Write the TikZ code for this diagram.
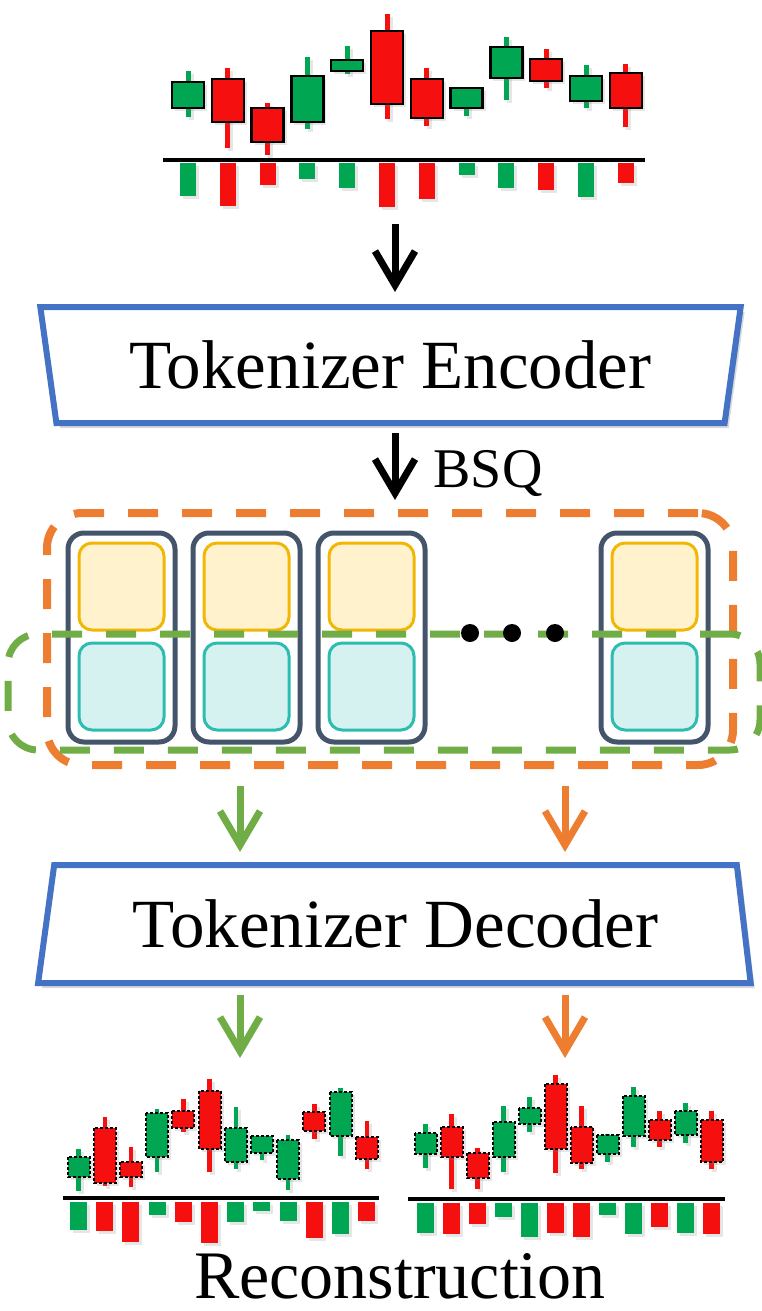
\documentclass[tikz,border=0pt]{standalone}
\usepackage{fontspec}
\setmainfont{Liberation Serif}
\usetikzlibrary{shapes.geometric,arrows.meta,shadows}

\definecolor{blockblue}{HTML}{4472C4}
\definecolor{tokgray}{HTML}{44546A}
\definecolor{hifill}{HTML}{FFF2CC}
\definecolor{hiline}{HTML}{F2B705}
\definecolor{lofill}{HTML}{D5F2F0}
\definecolor{loline}{HTML}{2CBCB0}
\definecolor{dashorange}{HTML}{ED7D31}
\definecolor{dashgreen}{HTML}{70AD47}
\definecolor{cg}{HTML}{00A651}
\definecolor{cr}{HTML}{F50F0F}

\begin{document}
\begin{tikzpicture}[x=1pt,y=-1pt]
    \tikzstyle{block} = [trapezium, trapezium stretches=true, draw=blockblue, line width=6pt, fill=white, inner sep=0pt, font=\fontsize{69}{80}\selectfont, drop shadow={opacity=0.3, shadow xshift=4pt, shadow yshift=-5pt}]
    \tikzstyle{tok} = [rectangle, rounded corners=16pt, draw=tokgray, line width=5pt, minimum width=107pt, minimum height=209pt, inner sep=0pt]
    \tikzstyle{hi} = [rectangle, rounded corners=13pt, draw=hiline, fill=hifill, line width=3pt, minimum width=85pt, minimum height=87pt, inner sep=0pt]
    \tikzstyle{lo} = [hi, draw=loline, fill=lofill]
    \tikzstyle{dashbox} = [rectangle, dash pattern=on 30pt off 24pt, inner sep=0pt]
    \tikzstyle{dot} = [circle, fill=black, minimum size=18pt, inner sep=0pt]
    \tikzstyle{karrow} = [line width=7pt, -{Straight Barb[length=34pt, width=40pt]}]
    \tikzstyle{cshadow} = [drop shadow={opacity=0.2, shadow xshift=3pt, shadow yshift=-3pt}]

    \useasboundingbox (0,0) rectangle (762,1311);

    % input series
    \foreach \c/\bt/\bb/\wt/\wb/\v [count=\i] in {cg/82/108/71/117/196, cr/79/122/68/148/206, cr/108/142/103/155/185, cg/76/122/57/129/179, cg/60/71/46/74/188, cr/31/104/14/119/207, cr/79/118/68/126/199, cg/88/108/88/116/175, cg/47/78/37/100/188, cr/59/81/49/88/190, cg/76/101/65/108/197, cr/73/108/64/127/183} {
        \pgfmathsetmacro{\cx}{188+(\i-1)*39.8}
        \fill[\c, cshadow] (\cx-2.5,\wt) rectangle (\cx+2.5,\wb);
        \filldraw[fill=\c, draw=black, line width=2.5pt, cshadow] (\cx-16,\bt) rectangle (\cx+16,\bb);
        \fill[\c, cshadow] (\cx-8,163) rectangle (\cx+8,\v);
    }
    \draw[line width=4pt] (163,160) -- (645,160);
    \coordinate (src) at (395,224);

    \node[block, shape border rotate=180, trapezium angle=75.5, minimum width=705pt, minimum height=116pt] (enc) at (390.5,365) {Tokenizer Encoder};

    % tokens
    \foreach \n/\x in {1/121.5, 2/246.5, 3/371.5, 4/654.5} {
        \node[tok] (tok-\n) at (\x,637.5) {};
        \node[hi] (hi-\n) at (\x,586.5) {};
        \node[lo] (lo-\n) at (\x,686.5) {};
    }
    \node[dashbox, draw=dashorange, line width=8pt, rounded corners=35pt, minimum width=686pt, minimum height=252pt] (allbox) at (390,639) {};
    \node[dashbox, draw=dashgreen, line width=7pt, rounded corners=30pt, minimum width=752pt, minimum height=116pt] (lowbox) at (384,692) {};
    \foreach \d [count=\k] in {470,512,555}
        \node[dot] (dot-\k) at (\d,633) {};

    \node[block, trapezium left angle=75.7, trapezium right angle=77.6, minimum width=715pt, minimum height=118pt] (dec) at (395.5,924) {Tokenizer Decoder};

    \coordinate (recL) at (240,1058);
    \coordinate (recR) at (565,1058);

    \draw[karrow] (src) -- (src |- enc.north) [shorten >=12pt];
    \draw[karrow, shorten <=7pt, shorten >=9pt] (enc.south -| src) -- (allbox.north -| src);
    \node[anchor=base west, font=\fontsize{56}{60}\selectfont] (bsq) at (430,487) {BSQ};
    \draw[karrow, dashgreen, shorten <=17pt, shorten >=10pt] (allbox.south -| recL) -- (dec.north -| recL);
    \draw[karrow, dashorange, shorten <=17pt, shorten >=10pt] (allbox.south -| recR) -- (dec.north -| recR);
    \draw[karrow, dashgreen, shorten <=9pt] (dec.south -| recL) -- (recL);
    \draw[karrow, dashorange, shorten <=9pt] (dec.south -| recR) -- (recR);

    % reconstructed series
    \foreach \c/\bt/\bb/\wt/\wb/\v [count=\i] in {cg/1157/1177/1149/1191/1230, cr/1128/1183/1117/1186/1231, cr/1162/1177/1147/1187/1242, cg/1113/1157/1109/1172/1215, cr/1111/1128/1099/1132/1222, cr/1091/1149/1079/1172/1243, cg/1128/1162/1107/1169/1222, cg/1136/1153/1136/1160/1211, cg/1140/1179/1135/1190/1221, cr/1112/1131/1104/1139/1238, cg/1092/1136/1088/1156/1234, cr/1137/1159/1121/1169/1221} {
        \pgfmathsetmacro{\cx}{78.5+(\i-1)*26.2}
        \fill[\c, cshadow] (\cx-2.2,\wt) rectangle (\cx+2.2,\wb);
        \filldraw[fill=\c, draw=black, line width=2pt, dash pattern=on 3pt off 2pt, cshadow] (\cx-11,\bt) rectangle (\cx+11,\bb);
        \fill[\c, cshadow] (\cx-8.5,1202) rectangle (\cx+8.5,\v);
    }
    \draw[line width=4pt] (63,1198) -- (379,1198);

    \foreach \c/\bt/\bb/\wt/\wb/\v [count=\i] in {cg/1133/1154/1124/1168/1233, cr/1127/1157/1114/1189/1234, cr/1153/1178/1148/1189/1224, cg/1122/1157/1106/1172/1217, cg/1108/1124/1097/1132/1237, cr/1084/1149/1075/1173/1233, cr/1127/1163/1106/1169/1237, cg/1135/1154/1134/1162/1215, cg/1096/1136/1087/1147/1234, cr/1120/1140/1111/1147/1227, cg/1111/1135/1103/1143/1233, cr/1120/1162/1111/1169/1234} {
        \pgfmathsetmacro{\cx}{425.5+(\i-1)*26}
        \fill[\c, cshadow] (\cx-2.2,\wt) rectangle (\cx+2.2,\wb);
        \filldraw[fill=\c, draw=black, line width=2pt, dash pattern=on 3pt off 2pt, cshadow] (\cx-11,\bt) rectangle (\cx+11,\bb);
        \fill[\c, cshadow] (\cx-8.5,1203) rectangle (\cx+8.5,\v);
    }
    \draw[line width=4pt] (408,1199) -- (725,1199);

    \node[anchor=base, font=\fontsize{68}{80}\selectfont] (rec) at (400,1298) {Reconstruction};

\end{tikzpicture}
\end{document}
